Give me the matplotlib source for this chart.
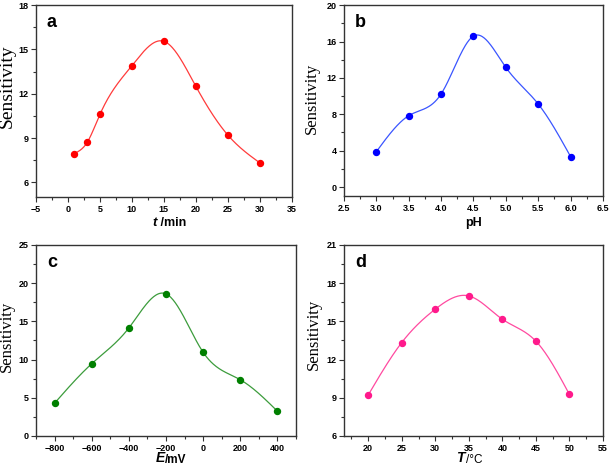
import numpy as np
import matplotlib
matplotlib.use("Agg")
import matplotlib.pyplot as plt
from matplotlib.ticker import MultipleLocator

# data
time_min = [1, 3, 5, 10, 15, 20, 25, 30]
sens_time = [7.95, 8.7, 10.6, 13.9, 15.55, 12.5, 9.2, 7.32]

ph = [3.0, 3.5, 4.0, 4.5, 5.0, 5.5, 6.0]
sens_ph = [3.9, 7.85, 10.24, 16.6, 13.15, 9.13, 3.35]

potential_mv = [-800, -600, -400, -200, 0, 200, 400]
sens_pot = [4.29, 9.46, 14.14, 18.6, 10.95, 7.36, 3.24]

temp_c = [20, 25, 30, 35, 40, 45, 50]
sens_temp = [9.22, 13.34, 15.96, 17.0, 15.17, 13.45, 9.27]


def natural_spline(x, y, n=300):
    # plain natural cubic spline, no scipy here
    x = np.asarray(x, float)
    y = np.asarray(y, float)
    k = len(x)
    h = np.diff(x)
    A = np.zeros((k, k))
    b = np.zeros(k)
    A[0, 0] = A[-1, -1] = 1
    for i in range(1, k - 1):
        A[i, i - 1] = h[i - 1]
        A[i, i] = 2 * (h[i - 1] + h[i])
        A[i, i + 1] = h[i]
        b[i] = 3 * ((y[i + 1] - y[i]) / h[i] - (y[i] - y[i - 1]) / h[i - 1])
    c = np.linalg.solve(A, b)
    xs = np.linspace(x[0], x[-1], n)
    idx = np.clip(np.searchsorted(x, xs) - 1, 0, k - 2)
    dx = xs - x[idx]
    hi = h[idx]
    bb = (y[idx + 1] - y[idx]) / hi - hi * (2 * c[idx] + c[idx + 1]) / 3
    dd = (c[idx + 1] - c[idx]) / (3 * hi)
    ys = y[idx] + bb * dx + c[idx] * dx ** 2 + dd * dx ** 3
    return xs, ys


fig = plt.figure(figsize=(6.09, 4.67), dpi=100)
positions = [[0.0591, 0.578, 0.420, 0.411],
             [0.565, 0.580, 0.425, 0.409],
             [0.0591, 0.0664, 0.427, 0.409],
             [0.565, 0.0664, 0.425, 0.409]]

tick_font = dict(family="Liberation Sans", weight="bold", size=6.5)
frame_col = "#333333"

# letter, x, y, marker colour, line colour, xlim, x major, x minor, ylim, y major, y minor,
# ylabel size, ylabel coords
panels = [
    ("a", time_min, sens_time, "#ff0000", "#ff3b3b", (-5, 35), 5, 2.5, (5, 18), 3, 1.5, 14, (-0.078, 0.58)),
    ("b", ph, sens_ph, "#0000ff", "#3a55ff", (2.5, 6.5), 0.5, 0.25, (-1, 20), 4, 2, 12, (-0.093, 0.51)),
    ("c", potential_mv, sens_pot, "#008000", "#3c9c3c", (-900, 500), 200, 100, (0, 25), 5, 2.5, 12, (-0.081, 0.52)),
    ("d", temp_c, sens_temp, "#ff1a8c", "#ff4aa0", (16.4, 55), 5, 2.5, (6, 21), 3, 1.5, 12, (-0.085, 0.53)),
]

axes = []
for pos, (letter, xv, yv, mcol, lcol, xl, xmaj, xmin_, yl, ymaj, ymin_, ylsize, ylpos) in zip(positions, panels):
    ax = fig.add_axes(pos)
    xs, ys = natural_spline(xv, yv)
    ax.plot(xs, ys, color=lcol, lw=0.9)
    ax.plot(xv, yv, "o", color=mcol, ms=4.3, mec=mcol)
    ax.set_xlim(*xl)
    ax.set_ylim(*yl)
    ax.xaxis.set_major_locator(MultipleLocator(xmaj))
    ax.xaxis.set_minor_locator(MultipleLocator(xmin_))
    ax.yaxis.set_major_locator(MultipleLocator(ymaj))
    ax.yaxis.set_minor_locator(MultipleLocator(ymin_))
    ax.tick_params(which="both", direction="out", top=False, right=False,
                   color=frame_col, width=0.8, pad=2)
    ax.tick_params(which="major", length=3.5)
    ax.tick_params(which="minor", length=2)
    for lab in ax.get_xticklabels() + ax.get_yticklabels():
        lab.set_fontproperties(tick_font)
        lab.set_fontsize(6.5)
    for sp in ax.spines.values():
        sp.set_color(frame_col)
        sp.set_linewidth(1.0)
    ax.set_ylabel("Sensitivity", family="Liberation Serif", fontsize=ylsize)
    ax.yaxis.set_label_coords(*ylpos)
    ax.text(0.043, 0.955, letter, transform=ax.transAxes, ha="left", va="top",
            family="Liberation Sans", weight="bold", fontsize=13)
    axes.append(ax)

# x labels (mixed italic / upright pieces)
ax = axes[0]
ax.text(0.473, -0.15, "t", transform=ax.transAxes, ha="right", va="baseline",
        family="Liberation Sans", weight="bold", style="italic", fontsize=9.5)
ax.text(0.473, -0.15, " /min", transform=ax.transAxes, ha="left", va="baseline",
        family="Liberation Sans", weight="bold", fontsize=9)

ax = axes[1]
ax.text(0.5, -0.155, "pH", transform=ax.transAxes, ha="center", va="baseline",
        family="Liberation Sans", weight="bold", fontsize=9)

ax = axes[2]
ax.text(0.497, -0.138, "E", transform=ax.transAxes, ha="right", va="baseline",
        family="Liberation Sans", weight="bold", style="italic", fontsize=10)
ax.text(0.497, -0.143, "/mV", transform=ax.transAxes, ha="left", va="baseline",
        family="Liberation Sans", weight="bold", fontsize=8.5)

ax = axes[3]
ax.text(0.467, -0.138, "T", transform=ax.transAxes, ha="right", va="baseline",
        family="Liberation Sans", weight="bold", style="italic", fontsize=10)
ax.text(0.472, -0.143, "/°C", transform=ax.transAxes, ha="left", va="baseline",
        family="Liberation Sans", fontsize=8.5)

fig.savefig("out.png", dpi=100)
